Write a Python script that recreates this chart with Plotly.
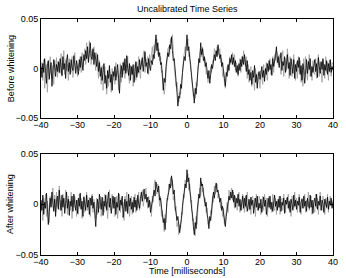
import numpy as np
import plotly.graph_objects as go

# time axis in milliseconds, 0.25 ms sampling (-40 ... 40)
time_ms = np.arange(-40, 40.0001, 0.25)

# values in units of 0.001 (uncalibrated strain); rows of 5 ms
before_black = [
    2, -9, 5, -4, 10, -6, -15, 3, 8, -11, -2, 6, -18, -5, 9, 1, -8, 4, -3, 7,
    -4, 10, 2, -7, 12, -1, 5, -10, 8, 14, -3, 6, -6, 9, 1, -2, 13, 4, -5, 8,
    3, -6, 9, 1, 12, 5, -2, 14, 8, 18, 10, 22, 6, 15, 26, 12, 9, 20, 4, 16,
    10, 2, 14, -3, 6, -8, 1, -12, -4, 5, -15, -7, -20, -2, -10, 3, -14, -6, -22, -3,
    -8, 2, -12, -4, 4, -10, -25, -6, 3, -9, 6, -2, 10, -5, 13, 0, -7, 5, -12, 2,
    -6, 4, -14, -3, 7, -9, 2, -4, 9, -1, 5, 11, -3, 8, 17, 2, 6, -5, 10, 3,
    -2, 8, 4, 14, 10, 22, 34, 18, 26, 12, 16, 4, 6, -8, -22, -10, -14, 2, 8, 16,
    12, 24, 20, 32, 18, 8, 10, -6, -12, -24, -38, -28, -30, -16, -20, -4, 2, 12, 8, 20,
    34, 18, 22, 10, 4, -8, -14, -24, -35, -20, -26, -8, -2, 10, 6, 26, 14, 20, 8, 12,
    2, 6, -4, -10, -2, -15, -6, 4, 0, 10, 14, 8, 18, 12, 24, 16, 10, 14, 2, 6,
    -6, -10, -18, -4, -8, 4, -2, 10, 6, 14, 4, 11, 2, 8, -4, 3, -6, 5, -2, 9,
    2, 12, 4, 14, 6, -3, 8, -6, -1, -12, -4, -16, -2, -9, 3, -14, -6, -20, -8, -3,
    -11, -4, 2, -9, -2, -13, 0, -6, 5, -3, 8, -1, 4, -7, 10, 2, 7, 13, 22, 6,
    12, 1, 9, 16, -2, 7, 3, 12, -4, 8, 14, 0, 6, -7, 10, 2, -5, 9, -10, 4,
    -3, 8, 1, 11, -6, 3, -12, 5, -2, -15, 4, 9, -5, 7, -1, 10, -8, 2, -4, 6,
    9, -3, 5, -9, 11, 2, -5, 7, -1, 10, -7, 4, -2, 8, -6, 5, -3, 9, -4, 2,
    -2,
]
before_gray = [
    -5, 6, -12, 9, -20, -3, 4, -24, 7, -8, 12, -4, -10, 3, -16, 8, -2, 11, -9, 2,
    6, -5, 15, -8, 3, 18, -6, 9, -2, 4, -12, 10, 1, -4, 12, -9, 5, 16, -3, 2,
    -8, 5, -2, 12, -4, 16, 2, 9, 20, 4, 26, 14, 8, 28, 10, 4, 18, 12, 22, 6,
    -2, 16, 4, -10, 8, -4, -16, 3, -22, -8, 2, -12, -26, -6, -18, -1, -9, -24, 0, -12,
    -4, -16, 6, -8, -2, -22, -12, 5, -14, 0, -6, 8, -10, 4, -3, 12, -8, -15, 3, -6,
    2, -18, -8, 4, -12, 6, -6, 12, -2, -10, 8, 2, 14, 18, -4, 10, 4, 12, -6, 14,
    6, 16, 22, 8, 24, 16, 28, 30, 14, 20, 8, 12, -4, -2, -16, -26, -18, -4, 6, 20,
    22, 14, 30, 26, 34, 10, 2, -8, -18, -14, -30, -34, -24, -26, -12, -6, 8, 14, 22, 18,
    26, 30, 12, 16, -2, -4, -20, -28, -26, -30, -14, -18, 2, 4, 16, 20, 12, 22, 16, 6,
    10, -6, -2, -14, -8, -10, 2, -4, 8, 6, 20, 16, 12, 22, 14, 18, 20, 6, 10, -8,
    -4, -14, -20, -8, 2, -4, 8, 12, 4, 10, 16, 6, 14, -2, 6, 2, -8, 4, 10, -4,
    12, 6, 18, 10, 2, 12, -10, 4, -14, -6, 2, -18, -8, -12, -22, 0, -10, -16, -4, -12,
    -20, -2, -8, -16, 4, -10, -4, 6, -12, 2, -2, 10, -6, 4, 12, -4, 14, 8, 18, 16,
    4, 14, 6, -6, 12, 18, -8, 4, 10, -2, 20, 8, -10, 12, 2, -8, 6, 14, -4, -12,
    6, -10, 12, -4, 8, -14, 2, -18, 10, -6, 12, -2, -12, 4, 14, -8, 2, -12, 8, -4,
    -6, 10, -10, 4, 14, -8, 6, -2, -14, 8, 2, -10, 12, -4, 6, -12, 8, 4, -8, 6,
    4,
]
after_black = [
    4, -6, 9, -10, 2, -4, 11, -2, -20, -8, 6, -3, 12, 0, -7, 5, -12, 3, 8, -5,
    14, 2, -6, 9, -3, 6, -9, 1, 12, -4, 5, -11, 3, -2, 8, -7, 10, 0, -6, 4,
    -9, 6, -2, 11, -5, 3, -12, 7, 1, -6, 9, -3, 4, -10, 6, -1, 8, -4, 2, -7,
    -22, -4, 5, -8, 10, 2, -5, 7, -11, 3, -2, 9, -6, 4, 12, -3, 6, -9, 1, 8,
    -4, 7, -10, 2, -3, 11, -6, 4, -1, 8, -13, 0, 5, -7, 3, -9, 10, -2, 6, -5,
    2, -8, 7, -3, 4, -6, 9, 1, -4, 6, 12, 3, 8, 15, 5, 10, 2, 7, -3, 4,
    -8, -2, 4, 10, 14, 8, 22, 16, 12, 18, 4, 6, -6, -10, -18, -14, -25, -8, 2, 8,
    12, 20, 16, 28, 22, 10, 14, -2, -8, -16, -12, -24, -28, -20, -14, -2, 4, 12, 20, 16,
    34, 22, 26, 14, 8, -4, -10, -22, -30, -18, -24, -8, 2, 10, 6, 26, 18, 20, 10, 6,
    -2, 2, -10, -14, -24, -12, -16, 0, 4, 12, 6, 16, 21, 12, 14, 8, 2, 6, -6, -2,
    -10, -14, -22, -12, -4, 2, 8, 4, 12, 6, 14, 2, 9, -3, 6, 1, 10, -2, 5, -6,
    3, 8, -4, 6, -2, 9, -7, 2, 5, -5, 7, -1, 4, -9, 2, 6, -3, 8, -6, 1,
    -4, 5, -8, 3, 7, -2, 4, -10, 1, 6, -3, 8, -5, 2, -7, 4, 9, -2, 3, -6,
    5, -3, 8, -7, 2, -1, 6, -9, 4, 0, 7, -4, 3, -8, 5, 1, -6, 9, -2, 4,
    -5, 3, -1, 7, -8, 2, 5, -4, 8, -2, 3, -7, 6, 0, -4, 9, -3, 4, -9, 2,
    6, -2, 10, -5, 3, -1, 8, -6, 4, 1, -8, 5, 2, -3, 7, -5, 3, -1, 6, -4,
    2,
]
after_gray = [
    -8, 4, -16, 6, -4, 10, -12, 3, -6, -18, 8, -2, 5, 16, -4, 9, -8, 12, -3, 2,
    18, -6, 4, -12, 10, 2, -4, 14, -2, -10, 8, 3, -6, 12, -14, 4, -3, 8, 2, -12,
    4, -10, 10, -4, 6, -14, 2, 8, -8, 4, 12, -6, -2, 7, -12, 3, 10, -8, 5, -2,
    -14, 6, -10, 2, -4, 8, -12, 4, 6, -8, 10, -4, 2, -14, 8, 14, -6, 2, 10, -4,
    6, -12, 4, 8, -14, 2, 10, -8, 6, -4, 2, -16, 8, -2, 12, -6, 4, -12, 2, 8,
    -10, 4, -2, 10, -8, 6, -4, 12, -6, 2, 8, 14, -2, 6, 10, 16, 4, -4, 8, -2,
    2, -12, 8, 2, 18, 24, 12, 10, 20, 6, -2, 8, -12, -6, -22, -27, -10, -18, 6, 4,
    20, 14, 26, 18, 24, 4, 8, -6, -2, -22, -18, -30, -20, -24, -8, -10, 10, 6, 24, 18,
    28, 30, 14, 20, 2, 4, -16, -14, -26, -31, -12, -20, -4, 12, 16, 8, 22, 12, 16, 2,
    6, -8, -4, -20, -16, -18, -6, -10, 8, 2, 18, 10, 14, 20, 6, 10, 4, -4, 2, -12,
    -4, -20, -16, -6, 2, -8, 14, 6, 10, 16, 4, 12, -4, 8, 2, -6, 6, 12, -8, 4,
    -6, 10, 2, -8, 8, -4, 12, -2, -6, 4, -10, 6, 8, -4, 6, -12, 10, 2, -6, 8,
    4, -10, 2, 8, -6, 10, -2, 6, -12, 4, 8, -4, 2, -8, 10, -2, -6, 6, -10, 3,
    -4, 8, -10, 4, 6, -6, 10, -4, -8, 6, 2, 10, -6, 4, -12, 8, 2, -4, 12, -2,
    6, -8, 4, 10, -2, -10, 6, 2, -4, 10, -8, 4, -2, 12, -6, 2, 8, -10, 4, -4,
    -8, 10, -4, 6, -10, 4, 12, -2, -6, 8, 2, -10, 6, -4, 10, -8, 4, 8, -2, 4,
    0,
]
for s in (before_black, before_gray, after_black, after_gray):
    assert len(s) == len(time_ms), len(s)

title_text = "Uncalibrated Time Series"
top_label = "Before whitening"
bottom_label = "After whitening"
x_title = "Time [milliseconds]"
x_ticks = [-40, -30, -20, -10, 0, 10, 20, 30, 40]
y_ticks = [-50, 0, 50]
y_tick_text = ["\u22120.05", "0", "0.05"]

FONT = "Liberation Sans, Arial, Helvetica, sans-serif"
FS = 9
GRAY = "#9c9c9c"

fig = go.Figure()
for series, col, xa, ya in [
    (before_gray, GRAY, "x", "y"),
    (before_black, "black", "x", "y"),
    (after_gray, GRAY, "x2", "y2"),
    (after_black, "black", "x2", "y2"),
]:
    fig.add_trace(go.Scatter(x=time_ms, y=series, mode="lines",
                             line=dict(color=col, width=0.8),
                             xaxis=xa, yaxis=ya, showlegend=False,
                             hoverinfo="skip"))

axis_common = dict(showline=True, linecolor="black", linewidth=1, mirror="ticks",
                   ticks="inside", ticklen=3, tickcolor="black", tickwidth=1,
                   showgrid=False, zeroline=False,
                   tickfont=dict(family=FONT, size=FS, color="black"))

fig.update_layout(
    width=346, height=278,
    margin=dict(l=41, r=8, t=19, b=23),
    paper_bgcolor="white", plot_bgcolor="white",
    font=dict(family=FONT, size=FS, color="black"),
    xaxis=dict(domain=[0, 1], anchor="y", range=[-40, 40], tickvals=x_ticks,
               ticklabelstandoff=-2, **axis_common),
    yaxis=dict(domain=[0.5805, 1], anchor="x", range=[-50, 50], tickvals=y_ticks,
               ticktext=y_tick_text, **axis_common),
    xaxis2=dict(domain=[0, 1], anchor="y2", range=[-40, 40], tickvals=x_ticks,
                ticklabelstandoff=-2, **axis_common),
    yaxis2=dict(domain=[0, 0.43], anchor="x2", range=[-50, 50], tickvals=y_ticks,
                ticktext=y_tick_text, **axis_common),
)

fig.add_annotation(text=title_text, xref="paper", yref="paper", x=0.5, y=1,
                   yanchor="bottom", yshift=3, showarrow=False,
                   font=dict(family=FONT, size=FS))
fig.add_annotation(text=top_label, xref="paper", yref="paper", x=-0.104,
                   y=(0.5805 + 1) / 2, textangle=-90, xanchor="center",
                   yanchor="middle", showarrow=False, font=dict(family=FONT, size=FS))
fig.add_annotation(text=bottom_label, xref="paper", yref="paper", x=-0.104,
                   y=0.43 / 2, textangle=-90, xanchor="center",
                   yanchor="middle", showarrow=False, font=dict(family=FONT, size=FS))
fig.add_annotation(text=x_title, xref="paper", yref="paper", x=0.5, y=0,
                   yanchor="middle", yshift=-16, showarrow=False,
                   font=dict(family=FONT, size=FS))

fig.write_html("out.html", config={"displayModeBar": False},
               post_script="document.body.style.margin='0';")
